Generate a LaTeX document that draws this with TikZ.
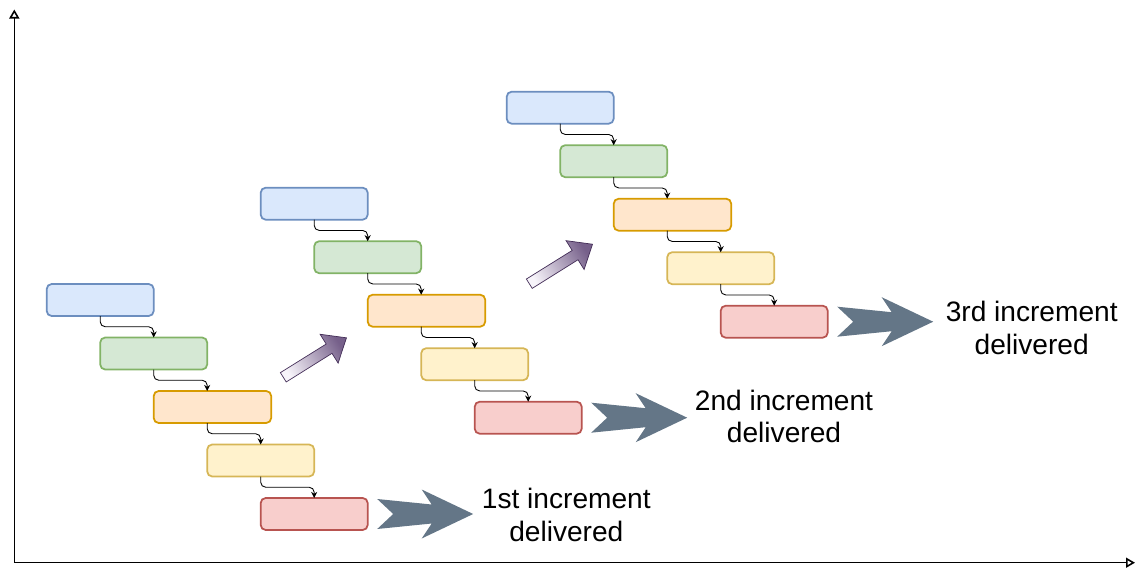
\documentclass[tikz,border=0pt]{standalone}
\usepackage{fontspec}
\setmainfont{Liberation Sans}
\usetikzlibrary{arrows.meta, positioning}

\definecolor{bluefill}{HTML}{DAE8FC}
\definecolor{blueline}{HTML}{6C8EBF}
\definecolor{greenfill}{HTML}{D5E8D4}
\definecolor{greenline}{HTML}{82B366}
\definecolor{orangefill}{HTML}{FFE6CC}
\definecolor{orangeline}{HTML}{D79B00}
\definecolor{yellowfill}{HTML}{FFF2CC}
\definecolor{yellowline}{HTML}{D6B656}
\definecolor{redfill}{HTML}{F8CECC}
\definecolor{redline}{HTML}{B85450}
\definecolor{deliverfill}{HTML}{647687}
\definecolor{risehead}{HTML}{76608A}
\definecolor{risetail}{HTML}{F7F4FA}
\definecolor{riseline}{HTML}{432D57}

\begin{document}
\begin{tikzpicture}[
    box/.style={draw=#1line, fill=#1fill, rounded corners=0.1cm, outer sep=0pt,
                minimum width=2.14cm, minimum height=0.64cm, line width=1pt},
    flow/.style={-{Stealth[length=3.5pt, width=3.5pt]}, line width=0.5pt,
                 rounded corners=0.1cm},
    axis/.style={{Triangle[open, length=0.18cm, width=0.2cm]}-{Triangle[open, length=0.18cm, width=0.2cm]},
                 line width=0.9pt},
    note/.style={align=center, font=\fontsize{16}{18.5}\selectfont},
    deliver/.pic={
      \fill[deliverfill] (0,0.30) -- (0.32,0) -- (0,-0.30) -- (1.09,-0.19)
        -- (0.89,-0.49) -- (1.92,0) -- (0.89,0.49) -- (1.09,0.19) -- cycle;
    },
    rise/.pic={
      \draw[riseline, line width=0.4pt, top color=risehead, bottom color=risetail,
            shading angle=-58]
        (0,-0.11) -- (1.08,-0.11) -- (1.08,-0.34) -- (1.49,0)
        -- (1.08,0.34) -- (1.08,0.11) -- (0,0.11) -- cycle;
    },
    node distance=0.43cm
  ]
  \useasboundingbox (0,0) rectangle (22.74,11.36);

  % Axes
  \coordinate (origin) at (0.286,0.106);
  \coordinate (ytop) at (0.286,11.17);
  \coordinate (xend) at (22.70,0.106);
  \draw[axis] (ytop) -- (origin) -- (xend);

  % First increment
  \node[box=blue, anchor=north west] (blue1) at (0.934,5.68) {};
  \node[box=green, below=of blue1.south, anchor=north west] (green1) {};
  \node[box=orange, minimum width=2.35cm, below=of green1.south, anchor=north west] (orange1) {};
  \node[box=yellow, below=of orange1.south west, anchor=north west, xshift=1.07cm] (yellow1) {};
  \node[box=red, below=of yellow1.south, anchor=north west] (red1) {};

  \draw[flow] (blue1.south) -- ++(0,-0.215) -| (green1.north);
  \draw[flow] (green1.south) -- ++(0,-0.215) -| ([xshift=1.07cm]orange1.north west);
  \draw[flow] ([xshift=1.07cm]orange1.south west) -- ++(0,-0.215) -| (yellow1.north);
  \draw[flow] (yellow1.south) -- ++(0,-0.215) -| (red1.north);

  % Second increment
  \node[box=blue, anchor=north west] (blue2) at (5.214,7.606) {};
  \node[box=green, below=of blue2.south, anchor=north west] (green2) {};
  \node[box=orange, minimum width=2.35cm, below=of green2.south, anchor=north west] (orange2) {};
  \node[box=yellow, below=of orange2.south west, anchor=north west, xshift=1.07cm] (yellow2) {};
  \node[box=red, below=of yellow2.south, anchor=north west] (red2) {};

  \draw[flow] (blue2.south) -- ++(0,-0.215) -| (green2.north);
  \draw[flow] (green2.south) -- ++(0,-0.215) -| ([xshift=1.07cm]orange2.north west);
  \draw[flow] ([xshift=1.07cm]orange2.south west) -- ++(0,-0.215) -| (yellow2.north);
  \draw[flow] (yellow2.south) -- ++(0,-0.215) -| (red2.north);

  % Third increment
  \node[box=blue, anchor=north west] (blue3) at (10.134,9.526) {};
  \node[box=green, below=of blue3.south, anchor=north west] (green3) {};
  \node[box=orange, minimum width=2.35cm, below=of green3.south, anchor=north west] (orange3) {};
  \node[box=yellow, below=of orange3.south west, anchor=north west, xshift=1.07cm] (yellow3) {};
  \node[box=red, below=of yellow3.south, anchor=north west] (red3) {};

  \draw[flow] (blue3.south) -- ++(0,-0.215) -| (green3.north);
  \draw[flow] (green3.south) -- ++(0,-0.215) -| ([xshift=1.07cm]orange3.north west);
  \draw[flow] ([xshift=1.07cm]orange3.south west) -- ++(0,-0.215) -| (yellow3.north);
  \draw[flow] (yellow3.south) -- ++(0,-0.215) -| (red3.north);

  % Steps up to the next increment
  \pic[rotate=32] at (5.666,3.814) {rise};
  \pic[rotate=32] at (10.586,5.686) {rise};

  % Deliveries
  \pic at ([xshift=0.19cm]red1.east) {deliver};
  \pic at ([xshift=0.19cm]red2.east) {deliver};
  \pic at ([xshift=0.19cm]red3.east) {deliver};

  \node[note] (done1) at (11.326,1.06) {1st increment\\delivered};
  \node[note] (done2) at (15.68,3.03) {2nd increment\\delivered};
  \node[note] (done3) at (20.634,4.80) {3rd increment\\delivered};

\end{tikzpicture}
\end{document}
